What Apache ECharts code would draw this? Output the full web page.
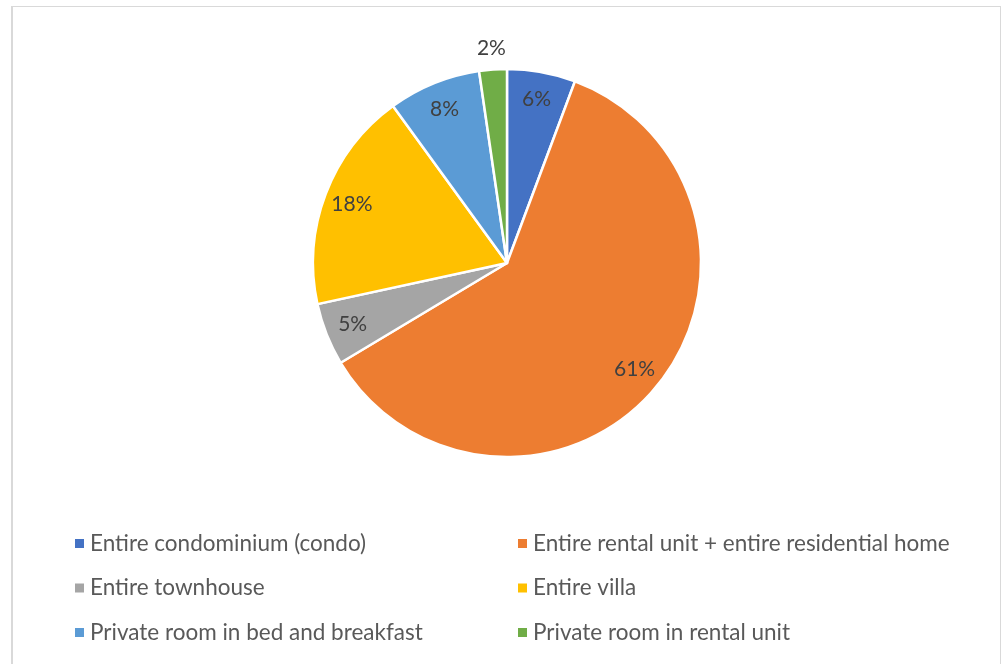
<!DOCTYPE html>
<html>
<head>
<meta charset="utf-8">
<script src="https://cdn.jsdelivr.net/npm/echarts@6/dist/echarts.min.js"></script>
<style>
  html, body { margin: 0; padding: 0; background: #fff; }
  #frame { position: absolute; left: 11px; top: 6px; width: 990px; height: 670px;
           border: 1px solid #d9d9d9; border-left-width: 2px; box-sizing: border-box; }
  #chart { position: absolute; left: 0; top: 0; width: 1004px; height: 664px; }
</style>
</head>
<body>
<div id="frame"></div>
<div id="chart"></div>
<script>
// Listing types and their share of listings (%)
const categories = [
  'Entire condominium (condo)',
  'Entire rental unit + entire residential home',
  'Entire townhouse',
  'Entire villa',
  'Private room in bed and breakfast',
  'Private room in rental unit'
];
const shares = [5.7, 60.7, 5.2, 18.4, 7.7, 2.3];
const colors = ['#4472C4', '#ED7D31', '#A5A5A5', '#FFC000', '#5B9BD5', '#70AD47'];
// slices whose label sits outside the pie
const outsideLabels = ['Private room in rental unit'];

const FONT = 'Lato, "Open Sans", sans-serif';
const R = 194;
const center = [507, 263];

const baseData = categories.map((name, i) => ({
  name, value: shares[i], itemStyle: { color: colors[i] }
}));

const labelText = {
  show: true, formatter: '{d}%', color: '#404040', fontSize: 21, fontFamily: FONT
};

const legendBase = {
  orient: 'vertical', top: 527, itemGap: 21.5,
  icon: 'rect', itemWidth: 9, itemHeight: 9, itemStyle: { borderWidth: 0 },
  textStyle: { color: '#595959', fontSize: 22.5, fontFamily: FONT, padding: [0, 0, 0, 1] }
};

const chart = echarts.init(document.getElementById('chart'), null, { renderer: 'canvas' });
chart.setOption({
  animation: false,
  legend: [
    Object.assign({ left: 70, data: [categories[0], categories[2], categories[4]] }, legendBase),
    Object.assign({ left: 513, data: [categories[1], categories[3], categories[5]] }, legendBase)
  ],
  series: [
    {
      // the pie itself
      type: 'pie', center, radius: [0, R], startAngle: 90, clockwise: true,
      itemStyle: { borderColor: '#ffffff', borderWidth: 2.5 },
      label: { show: false }, labelLine: { show: false },
      emphasis: { disabled: true },
      data: baseData
    },
    {
      // inner percentage labels, drawn on an invisible ring near the rim
      type: 'pie', center, radius: [R * 0.68, R], startAngle: 90, clockwise: true,
      silent: true, percentPrecision: 0, legendHoverLink: false,
      itemStyle: { color: 'rgba(0,0,0,0)', borderWidth: 0 },
      label: Object.assign({ position: 'inside' }, labelText),
      labelLine: { show: false },
      emphasis: { disabled: true },
      data: baseData.map(d => ({
        name: d.name, value: d.value,
        itemStyle: { color: 'rgba(0,0,0,0)' },
        label: { show: !outsideLabels.includes(d.name) }
      }))
    },
    {
      // labels for thin slices, placed just outside the rim
      type: 'pie', center, radius: [R, R * 1.19], startAngle: 90, clockwise: true,
      silent: true, percentPrecision: 0, legendHoverLink: false,
      itemStyle: { color: 'rgba(0,0,0,0)', borderWidth: 0 },
      label: Object.assign({ position: 'inside' }, labelText),
      labelLine: { show: false },
      emphasis: { disabled: true },
      data: baseData.map(d => ({
        name: d.name, value: d.value,
        itemStyle: { color: 'rgba(0,0,0,0)' },
        label: { show: outsideLabels.includes(d.name) }
      }))
    }
  ]
});
</script>
</body>
</html>
